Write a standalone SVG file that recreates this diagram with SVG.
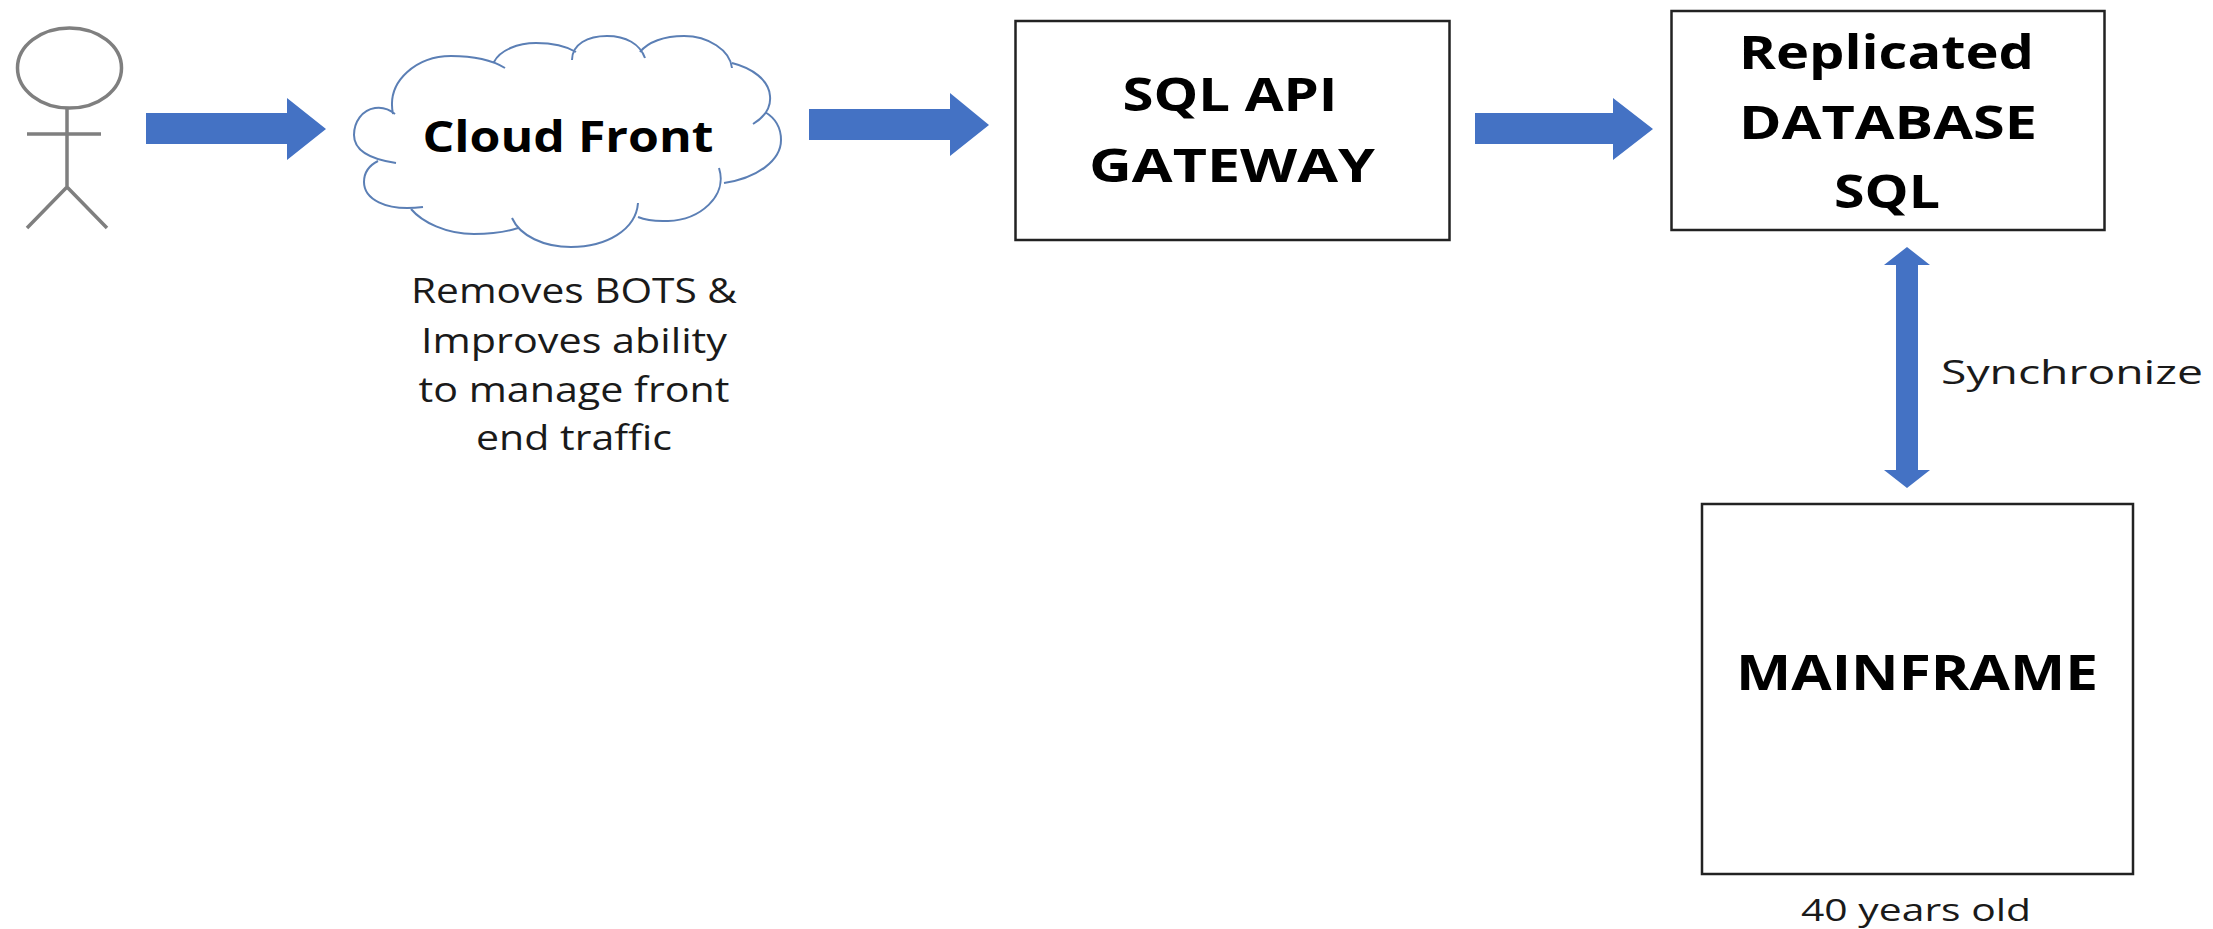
<svg xmlns="http://www.w3.org/2000/svg" width="2213" height="929" viewBox="0 0 2213 929">
<style>
text{font-family:"Open Sans","Noto Sans","Liberation Sans",sans-serif;fill:#000;text-anchor:middle}
.b{font-weight:700}
.r{font-weight:400;fill:#1a1a1a}
.box{fill:#fff;stroke:#222;stroke-width:2.5}
.arrow{fill:#4472c4}
.stick{fill:none;stroke:#7f7f7f;stroke-width:3.5}
.cloud{fill:none;stroke:#5b7fb5;stroke-width:2}
</style>
<rect width="2213" height="929" fill="#fff"/>
<g id="connectors">
<polygon class="arrow" points="146,113 287,113 287,98 326,129 287,160 287,144 146,144"/>
<polygon class="arrow" points="809,109 950,109 950,93 989,125 950,156 950,140 809,140"/>
<polygon class="arrow" points="1475,113 1613,113 1613,98 1653,129 1613,160 1613,144 1475,144"/>
<polygon class="arrow" points="1907,247 1930,265 1918,265 1918,470 1930,470 1907,488 1884,470 1896,470 1896,265 1884,265"/>
</g>
<g id="user">
<ellipse class="stick" cx="69.5" cy="68" rx="52" ry="40"/>
<path class="stick" d="M67 108V187M27 134H101M67 187L27 228M67 187L107 228"/>
</g>
<g id="cloud-front">
<path class="cloud" d="M395 114C388 108 382 107 375 108C362 110 354 122 354 135C354 146 362 158 396 163
M378 161C370 165 364 172 364 182C364 198 384 212 423 207
M411 209C422 222 446 234 474 234C490 234 506 232 518 228
M512 218C520 236 544 247 571 247C606 247 636 230 638 203
M638 217C650 222 660 221 668 221C700 220 728 196 719 168
M724 183C758 178 781 160 781 140C781 128 775 118 765 112
M753 124C766 116 771 106 770 96C769 80 752 68 732 63
M732 68C730 50 708 36 684 36C664 36 648 42 640 52
M645 58C640 44 626 36 607 36C588 36 572 44 572 60
M576 52C566 46 552 43 536 43C518 43 500 50 494 62
M505 68C492 60 474 56 451 56C418 56 386 80 393 114"/>
<text class="b" x="568" y="152" font-size="43" textLength="291" lengthAdjust="spacingAndGlyphs">Cloud Front</text>
</g>
<g id="cloud-note">
<text class="r" x="574" y="303" font-size="34" textLength="326" lengthAdjust="spacingAndGlyphs">Removes BOTS &amp;</text>
<text class="r" x="574" y="353" font-size="34" textLength="306" lengthAdjust="spacingAndGlyphs">Improves ability</text>
<text class="r" x="574" y="402" font-size="34" textLength="311" lengthAdjust="spacingAndGlyphs">to manage front</text>
<text class="r" x="574" y="450" font-size="34" textLength="196" lengthAdjust="spacingAndGlyphs">end traffic</text>
</g>
<g id="sql-api-gateway">
<rect class="box" x="1015.5" y="21" width="434" height="219"/>
<text class="b" x="1230" y="111" font-size="47" textLength="215" lengthAdjust="spacingAndGlyphs">SQL API</text>
<text class="b" x="1232" y="182" font-size="47" textLength="286" lengthAdjust="spacingAndGlyphs">GATEWAY</text>
</g>
<g id="replicated-database">
<rect class="box" x="1671.5" y="11" width="433" height="219"/>
<text class="b" x="1886.5" y="69" font-size="47" textLength="295" lengthAdjust="spacingAndGlyphs">Replicated</text>
<text class="b" x="1888" y="139" font-size="47" textLength="298" lengthAdjust="spacingAndGlyphs">DATABASE</text>
<text class="b" x="1887" y="208" font-size="47" textLength="106" lengthAdjust="spacingAndGlyphs">SQL</text>
</g>
<g id="sync-label">
<text class="r" x="2072" y="384" font-size="33" textLength="262" lengthAdjust="spacingAndGlyphs">Synchronize</text>
</g>
<g id="mainframe">
<rect class="box" x="1702" y="504" width="431" height="370"/>
<text class="b" x="1917" y="690" font-size="49" textLength="362" lengthAdjust="spacingAndGlyphs">MAINFRAME</text>
<text class="r" x="1916" y="921" font-size="31" textLength="230" lengthAdjust="spacingAndGlyphs">40 years old</text>
</g>
</svg>
